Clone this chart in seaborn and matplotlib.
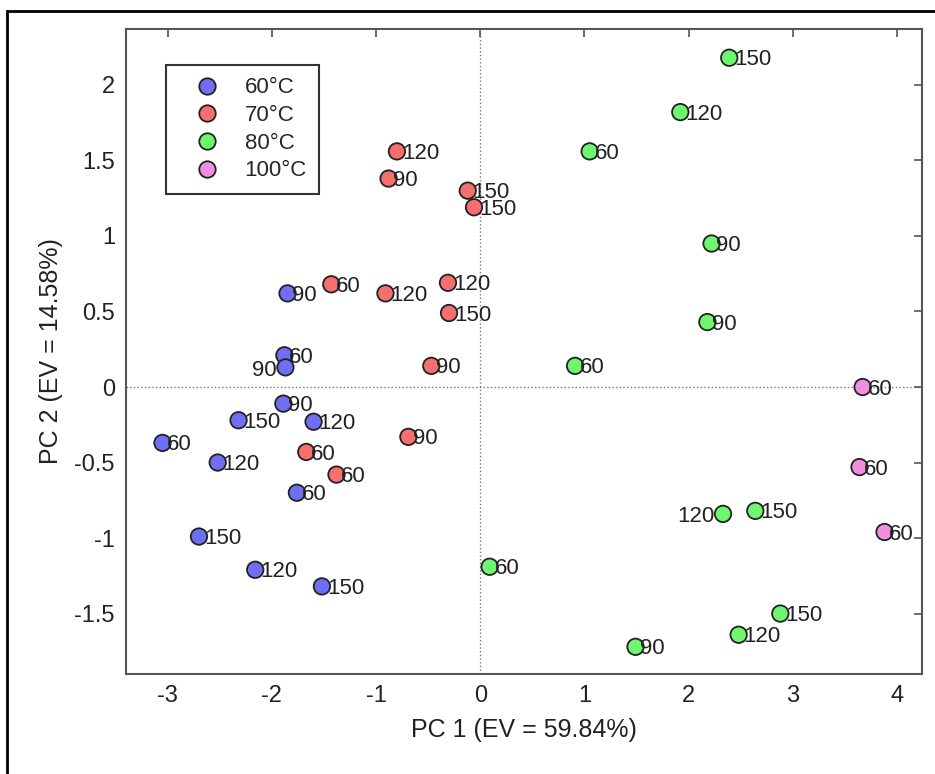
import numpy as np
import pandas as pd
import matplotlib.pyplot as plt
import seaborn as sns
from matplotlib.patches import Rectangle
from matplotlib.ticker import FuncFormatter

sns.set_style('white')
plt.rcParams['font.family'] = ['Liberation Sans', 'DejaVu Sans']
plt.rcParams['axes.unicode_minus'] = False

# PCA scores
pc1 = [-3.05, -2.52, -2.32, -2.70, -2.16, -1.52, -1.76, -1.89, -1.60, -1.88, -1.87, -1.85,
       -0.80, -0.88, -0.12, -0.06, -1.43, -0.91, -0.31, -0.30, -0.47, -0.69, -1.67, -1.38,
       2.39, 1.92, 1.05, 2.22, 2.18, 0.91, 2.33, 2.64, 0.09, 2.88, 2.48, 1.49,
       3.67, 3.64, 3.88]
pc2 = [-0.37, -0.50, -0.22, -0.99, -1.21, -1.32, -0.70, -0.11, -0.23, 0.21, 0.13, 0.62,
       1.56, 1.38, 1.30, 1.19, 0.68, 0.62, 0.69, 0.49, 0.14, -0.33, -0.43, -0.58,
       2.18, 1.82, 1.56, 0.95, 0.43, 0.14, -0.84, -0.82, -1.19, -1.50, -1.64, -1.72,
       0.00, -0.53, -0.96]
temps = ['60°C'] * 12 + ['70°C'] * 12 + ['80°C'] * 12 + ['100°C'] * 3
times = ['60', '120', '150', '150', '120', '150', '60', '90', '120', '60', '90', '90',
         '120', '90', '150', '150', '60', '120', '120', '150', '90', '90', '60', '60',
         '150', '120', '60', '90', '90', '60', '120', '150', '60', '150', '120', '90',
         '60', '60', '60']
# labels drawn on the left side of their marker
left_labels = [10, 30]

temp_order = ['60°C', '70°C', '80°C', '100°C']
colors = ['#6f6ff6', '#f56f6f', '#6ff66f', '#f28ee0']

df = pd.DataFrame({'PC1': pc1, 'PC2': pc2, 'Temp': temps, 'Time': times})

fig = plt.figure(figsize=(9.35, 7.74), dpi=100)
ax = fig.add_axes([0.1348, 0.1292, 0.8513, 0.8333])

ax.axhline(0, color='#777777', lw=1, ls=':', zorder=0)
ax.axvline(0, color='#777777', lw=1, ls=':', zorder=0)

sns.scatterplot(data=df, x='PC1', y='PC2', hue='Temp', hue_order=temp_order,
                palette=colors, s=140, edgecolor='#222222', linewidth=1.3,
                ax=ax, zorder=3)

for i, row in df.iterrows():
    if i in left_labels:
        ax.annotate(row['Time'], (row['PC1'], row['PC2']), xytext=(-6, -2),
                    textcoords='offset points', ha='right', va='center',
                    fontsize=16, color='#222222', zorder=4)
    else:
        ax.annotate(row['Time'], (row['PC1'], row['PC2']), xytext=(3.5, -1.5),
                    textcoords='offset points', ha='left', va='center',
                    fontsize=16, color='#222222', zorder=4)

ax.set_xlim(-3.4, 4.24)
ax.set_ylim(-1.9, 2.37)
ax.set_xticks(range(-3, 5))
ax.set_yticks([-1.5, -1, -0.5, 0, 0.5, 1, 1.5, 2])
ax.yaxis.set_major_formatter(FuncFormatter(lambda v, p: f'{v:g}'))
ax.tick_params(direction='in', top=True, right=True, length=6, width=1.2,
               labelsize=17, colors='#555555', labelcolor='#222222', pad=8)
for sp in ax.spines.values():
    sp.set_color('#555555')
    sp.set_linewidth(1.5)

ax.set_xlabel('PC 1 (EV = 59.84%)', fontsize=18, color='#222222', labelpad=8)
ax.set_ylabel('PC 2 (EV = 14.58%)', fontsize=18, color='#222222', labelpad=8)

leg = ax.legend(loc='upper left', bbox_to_anchor=(0.05, 0.944), borderaxespad=0,
                fontsize=16, frameon=True, fancybox=False, edgecolor='black',
                handletextpad=0.4, handlelength=2.6, borderpad=0.55,
                labelspacing=0.3, markerscale=1.0, title=None)
leg.get_frame().set_linewidth(1.5)

# outer border of the original figure
fig.patches.append(Rectangle((0.0075, -0.1), 1.2, 1.086, transform=fig.transFigure,
                             fill=False, edgecolor='black', linewidth=2))

fig.savefig('out.png', dpi=100)
